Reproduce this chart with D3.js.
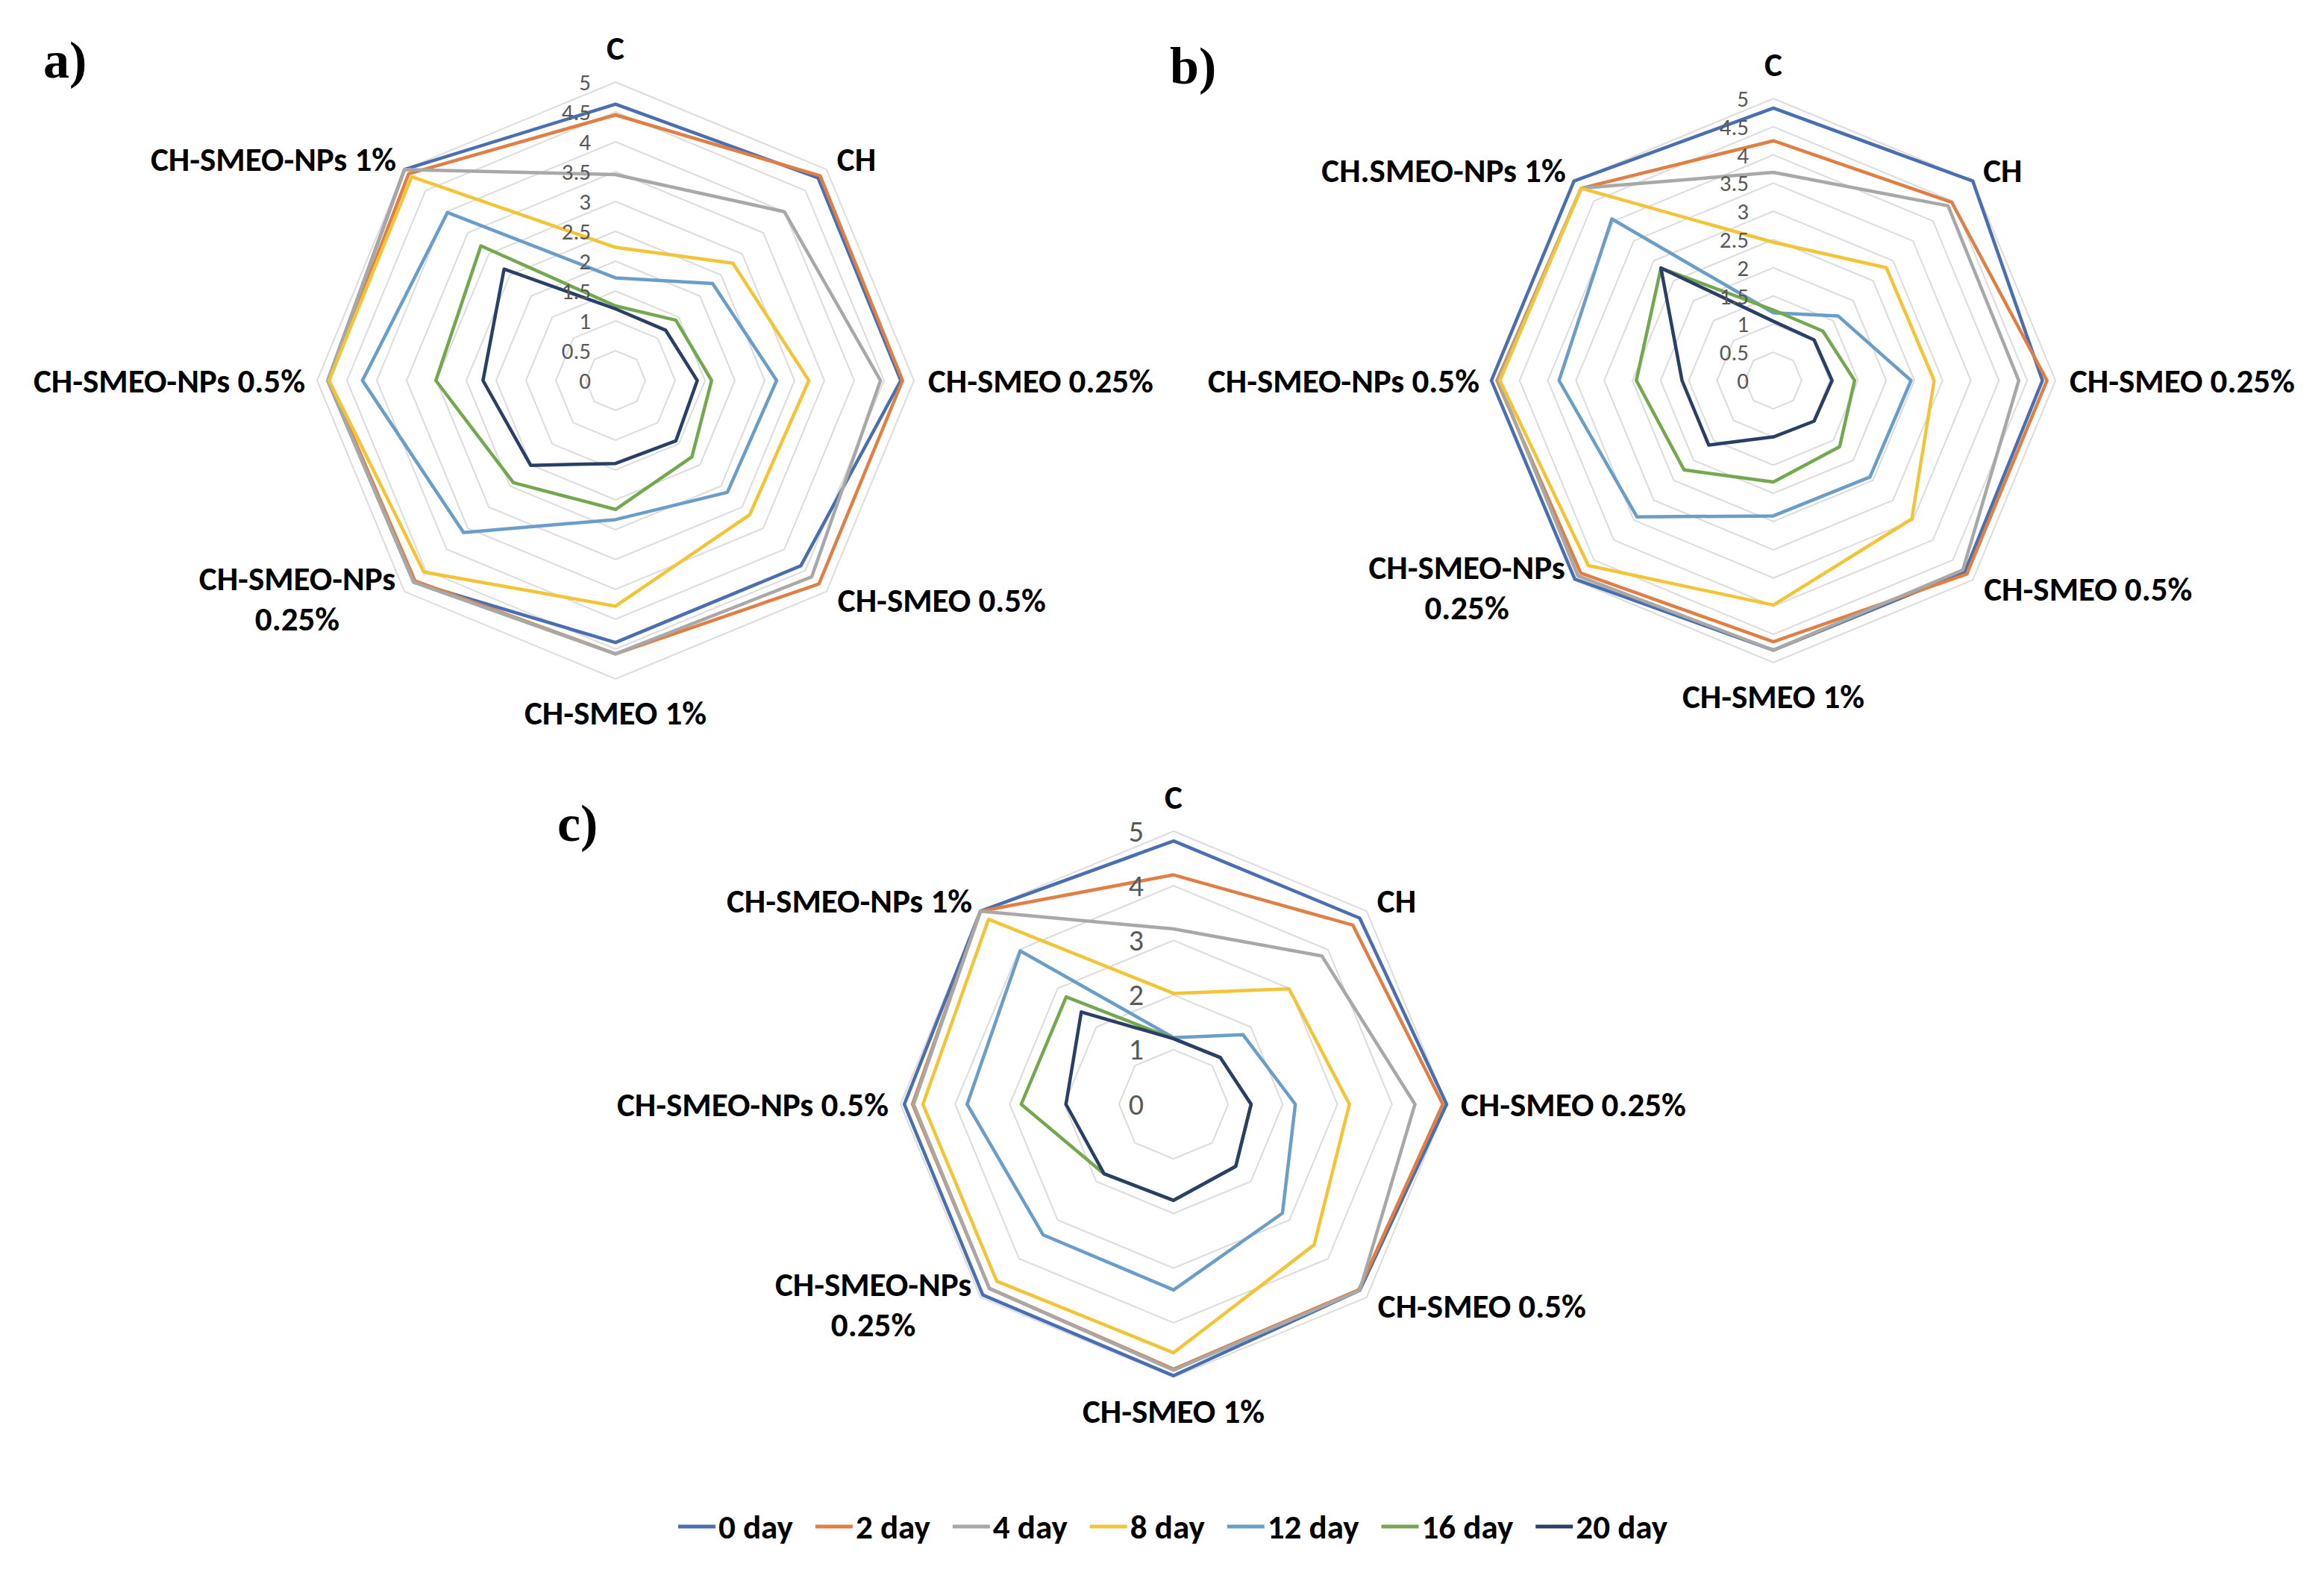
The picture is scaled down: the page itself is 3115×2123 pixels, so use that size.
<!DOCTYPE html>
<html>
<head>
<meta charset="utf-8">
<script src="https://cdn.jsdelivr.net/npm/d3@7"></script>
<style>
  html, body { margin: 0; padding: 0; background: #ffffff; }
  svg { display: block; }
</style>
</head>
<body>
<svg id="chart" width="3115" height="2123"></svg>
<script>
// ---------------- DATA ----------------
const categories = ["C", "CH", "CH-SMEO 0.25%", "CH-SMEO 0.5%", "CH-SMEO 1%",
                    "CH-SMEO-NPs 0.25%", "CH-SMEO-NPs 0.5%", "CH-SMEO-NPs 1%"];
const categoriesB = ["C", "CH", "CH-SMEO 0.25%", "CH-SMEO 0.5%", "CH-SMEO 1%",
                     "CH-SMEO-NPs 0.25%", "CH-SMEO-NPs 0.5%", "CH.SMEO-NPs 1%"];
const seriesNames = ["0 day", "2 day", "4 day", "8 day", "12 day", "16 day", "20 day"];
const ticksAB = [0, 0.5, 1, 1.5, 2, 2.5, 3, 3.5, 4, 4.5, 5];
const ticksC = [0, 1, 2, 3, 4, 5];
const panelIds = ["a)", "b)", "c)"];

// rows = series (0..20 day), columns = categories
const panelA = [
  [4.63, 4.80, 4.78, 4.39, 4.39, 4.78, 4.82, 5.00],
  [4.45, 4.85, 4.81, 4.82, 4.58, 4.75, 4.80, 4.90],
  [3.45, 4.00, 4.44, 4.65, 4.58, 4.78, 4.82, 5.00],
  [2.23, 2.78, 3.24, 3.18, 3.78, 4.54, 4.80, 4.83],
  [1.72, 2.30, 2.70, 2.65, 2.33, 3.60, 4.24, 3.98],
  [1.25, 1.43, 1.61, 1.81, 2.16, 2.42, 3.01, 3.19],
  [1.20, 1.19, 1.37, 1.43, 1.39, 2.01, 2.22, 2.64]
];
const panelB = [
  [4.83, 5.00, 4.77, 4.80, 4.78, 4.98, 5.00, 5.00],
  [4.25, 4.47, 4.85, 4.85, 4.63, 4.83, 4.90, 4.82],
  [3.69, 4.38, 4.35, 4.75, 4.78, 4.90, 4.88, 4.82],
  [2.45, 2.83, 2.85, 3.47, 3.98, 4.64, 4.85, 4.82],
  [1.20, 1.62, 2.44, 2.42, 2.40, 3.42, 3.80, 4.05],
  [1.25, 1.24, 1.44, 1.66, 1.80, 2.24, 2.43, 2.82],
  [1.05, 1.02, 1.04, 1.02, 1.00, 1.62, 1.62, 2.82]
];
const panelC = [
  [4.82, 4.82, 5.00, 4.82, 4.97, 4.94, 4.93, 5.00],
  [4.20, 4.64, 4.93, 4.80, 4.85, 4.77, 4.78, 5.00],
  [3.21, 3.84, 4.42, 4.82, 4.87, 4.77, 4.76, 5.00],
  [2.03, 2.99, 3.22, 3.64, 4.55, 4.58, 4.59, 4.79],
  [1.22, 1.80, 2.23, 2.82, 3.40, 3.38, 3.78, 3.97],
  [1.20, 1.21, 1.42, 1.61, 1.76, 1.80, 2.79, 2.78],
  [1.20, 1.21, 1.42, 1.61, 1.76, 1.80, 1.97, 2.39]
];

// ---------------- STYLE / LAYOUT ----------------
const seriesColors = ["#4A6FB0", "#E07F45", "#A8A8A8", "#F2C437", "#6A9DC8", "#74A84F", "#2A3F66"];
const FONT = "Carlito, Calibri, Lato, 'Open Sans', sans-serif";

const svg = d3.select("#chart");
svg.append("rect").attr("width", 3115).attr("height", 2123).attr("fill", "#fff");

function textWidth(txt, size, weight) {
  const t = svg.append("text").attr("font-family", FONT).attr("font-size", size)
    .attr("font-weight", weight).text(txt);
  const w = t.node().getComputedTextLength();
  t.remove();
  return w;
}
const labelFs = 100 * 302 / textWidth("CH-SMEO 0.25%", 100, "bold");

const panels = [
  { data: panelA, cats: categories, ticks: ticksAB, cx: 825, cy: 510, R: 400, tickFs: 31, tickOff: 33, tagX: 58, tagY: 104 },
  { data: panelB, cats: categoriesB, ticks: ticksAB, cx: 2377, cy: 510, R: 378, tickFs: 31, tickOff: 33, tagX: 1568, tagY: 112 },
  { data: panelC, cats: categories, ticks: ticksC, cx: 1573, cy: 1480, R: 366, tickFs: 40, tickOff: 40, tagX: 747, tagY: 1127 }
];

const nAxes = categories.length;
const angle = d3.scaleLinear().domain([0, nAxes]).range([0, 2 * Math.PI]);

panels.forEach((p, pi) => {
  const r = d3.scaleLinear().domain([0, 5]).range([0, p.R]);
  const g = svg.append("g").attr("transform", `translate(${p.cx},${p.cy})`);

  const radial = d3.lineRadial()
    .angle((d, i) => angle(i))
    .radius(d => r(d))
    .curve(d3.curveLinearClosed);

  // grid rings
  g.append("g").selectAll("path")
    .data(p.ticks.filter(t => t > 0))
    .join("path")
    .attr("d", t => radial(d3.range(nAxes).map(() => t)))
    .attr("fill", "none")
    .attr("stroke", "#dcdcdc")
    .attr("stroke-width", 2);

  // series
  g.append("g").selectAll("path")
    .data(p.data)
    .join("path")
    .attr("d", d => radial(d))
    .attr("fill", "none")
    .attr("stroke", (d, i) => seriesColors[i])
    .attr("stroke-width", 4.5)
    .attr("stroke-linejoin", "round");

  // tick labels
  g.append("g").selectAll("text")
    .data(p.ticks)
    .join("text")
    .attr("x", -p.tickOff)
    .attr("y", t => -r(t))
    .attr("text-anchor", "end")
    .attr("dominant-baseline", "central")
    .attr("font-family", FONT)
    .attr("font-size", p.tickFs)
    .attr("fill", "#595959")
    .text(t => t);

  // category labels
  const lab = g.append("g").attr("font-family", FONT).attr("font-weight", "bold")
    .attr("font-size", labelFs).attr("fill", "#000");
  p.cats.forEach((c, i) => {
    const a = angle(i);
    const px = Math.sin(a) * p.R, py = -Math.cos(a) * p.R;
    if (i === 0) {
      lab.append("text").attr("x", px).attr("y", py - 46).attr("text-anchor", "middle")
        .attr("dominant-baseline", "central").text(c);
    } else if (i === 4) {
      lab.append("text").attr("x", px).attr("y", py + 45).attr("text-anchor", "middle")
        .attr("dominant-baseline", "central").text(c);
    } else if (i === 2) {
      lab.append("text").attr("x", px + 19).attr("y", py).attr("text-anchor", "start")
        .attr("dominant-baseline", "central").text(c);
    } else if (i === 6) {
      lab.append("text").attr("x", px - 16).attr("y", py).attr("text-anchor", "end")
        .attr("dominant-baseline", "central").text(c);
    } else if (i === 1) {
      lab.append("text").attr("x", px + 14).attr("y", py - 14).attr("text-anchor", "start")
        .attr("dominant-baseline", "central").text(c);
    } else if (i === 3) {
      lab.append("text").attr("x", px + 15).attr("y", py + 12).attr("text-anchor", "start")
        .attr("dominant-baseline", "central").text(c);
    } else if (i === 7) {
      lab.append("text").attr("x", px - 11).attr("y", py - 14).attr("text-anchor", "end")
        .attr("dominant-baseline", "central").text(c);
    } else if (i === 5) {
      const parts = c.split(" ");
      const w1 = textWidth(parts[0], labelFs, "bold");
      const xc = px - 12 - w1 / 2;
      lab.append("text").attr("x", xc).attr("y", py - 17).attr("text-anchor", "middle")
        .attr("dominant-baseline", "central").text(parts[0]);
      lab.append("text").attr("x", xc).attr("y", py + 37).attr("text-anchor", "middle")
        .attr("dominant-baseline", "central").text(parts[1]);
    }
  });

  // panel tag
  svg.append("text").attr("x", p.tagX).attr("y", p.tagY)
    .attr("font-family", "'Liberation Serif', 'DejaVu Serif', serif")
    .attr("font-weight", "bold").attr("font-size", 70).attr("fill", "#000")
    .text(panelIds[pi]);
});

// ---------------- LEGEND ----------------
const legend = svg.append("g");
let lx = 0;
const gap = 30;
seriesNames.forEach((name, i) => {
  const it = legend.append("g").attr("transform", `translate(${lx},0)`);
  it.append("line").attr("x1", 0).attr("x2", 50).attr("y1", 0).attr("y2", 0)
    .attr("stroke", seriesColors[i]).attr("stroke-width", 5);
  const t = it.append("text").attr("x", 54).attr("y", 0)
    .attr("dominant-baseline", "central")
    .attr("font-family", FONT).attr("font-weight", "bold").attr("font-size", labelFs)
    .attr("fill", "#000").text(name);
  lx += 54 + t.node().getComputedTextLength() + gap;
});
const legendW = lx - gap;
legend.attr("transform", `translate(${1572 - legendW / 2},2046)`);
</script>
</body>
</html>
